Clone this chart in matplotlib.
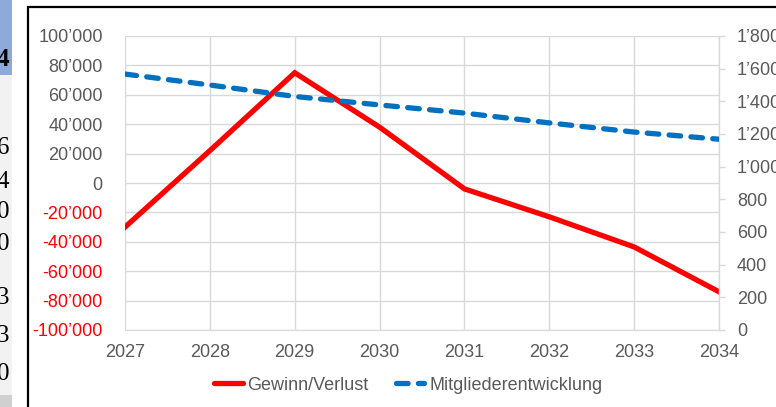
import matplotlib
matplotlib.use("Agg")
import matplotlib.pyplot as plt
from matplotlib.patches import Rectangle
from matplotlib.ticker import FuncFormatter, MultipleLocator
from matplotlib.lines import Line2D

years = [2027, 2028, 2029, 2030, 2031, 2032, 2033, 2034]
gewinn = [-30000, 22000, 75000, 38000, -4000, -23000, -43500, -74000]
mitglieder = [1567, 1500, 1430, 1378, 1328, 1268, 1212, 1168]
series_names = ["Gewinn/Verlust", "Mitgliederentwicklung"]
side_digits = ["4", "6", "4", "0", "0", "3", "3", "0"]
side_digit_y = [60, 148, 182, 212, 244, 298, 336, 374]

W, H = 776, 407
fig = plt.figure(figsize=(W / 100, H / 100), dpi=100)
fig.patch.set_facecolor("white")
plt.rcParams['font.family'] = ['Liberation Sans', 'DejaVu Sans']

# spreadsheet strip on the left (screenshot artifacts)
fig.add_artist(Rectangle((0, 0), 12 / W, 1, transform=fig.transFigure,
                         facecolor="#f2f2f2", edgecolor="none", zorder=0))
fig.add_artist(Rectangle((0, 1 - 75 / H), 12 / W, 75 / H, transform=fig.transFigure,
                         facecolor="#8eaadb", edgecolor="none", zorder=0))
fig.add_artist(Rectangle((0, 0), 12 / W, 12 / H, transform=fig.transFigure,
                         facecolor="#d0d0d0", edgecolor="none", zorder=0))
for i, (d, yy) in enumerate(zip(side_digits, side_digit_y)):
    fig.text(9 / W, 1 - yy / H, d, ha="right", va="center", fontsize=18,
             family="Liberation Serif", fontweight="bold" if i == 0 else "normal",
             color="black")

# black chart frame
fig.add_artist(Rectangle((28 / W, -0.1), 1.2, (H - 7) / H + 0.1, transform=fig.transFigure,
                         facecolor="none", edgecolor="black", linewidth=1.6, zorder=5))

ax = fig.add_axes([125 / W, 1 - 330 / H, (719 - 125) / W, (330 - 36) / H])
ax2 = ax.twinx()

grid_c = "#d9d9d9"
label_c = "#595959"
fs = 13

ax.set_xlim(2027, 2034)
ax.set_ylim(-100000, 100000)
ax2.set_ylim(0, 1800)
ax.set_xticks(years)
ax.yaxis.set_major_locator(MultipleLocator(20000))
ax2.yaxis.set_major_locator(MultipleLocator(200))

def fmt(v, pos=None):
    v = int(round(v))
    s = f"{abs(v):,}".replace(",", "\u2019")
    return ("-" if v < 0 else "") + s

ax.yaxis.set_major_formatter(FuncFormatter(fmt))
ax2.yaxis.set_major_formatter(FuncFormatter(fmt))

ax.grid(True, color=grid_c, linewidth=1.0)
ax.set_axisbelow(True)
for sp in ["top", "right", "left"]:
    ax.spines[sp].set_visible(False)
for sp in ["top", "left", "bottom"]:
    ax2.spines[sp].set_visible(False)
ax.spines["bottom"].set_color(grid_c)
ax2.spines["right"].set_color(grid_c)
ax2.spines["right"].set_linewidth(1.0)

ax.tick_params(axis="x", length=0, pad=10, labelsize=fs, labelcolor=label_c)
ax.tick_params(axis="y", length=0, pad=16, labelsize=fs, labelcolor=label_c)
ax2.tick_params(axis="y", length=4, width=1, color=grid_c, pad=9, labelsize=fs, labelcolor=label_c)
for lab, v in zip(ax.get_yticklabels(), ax.get_yticks()):
    if v < 0:
        lab.set_color("#ff0000")

ax.plot(years, gewinn, color="#ff0000", linewidth=3.8, solid_joinstyle="miter", zorder=3)
ax2.plot(years, mitglieder, color="#0070c0", linewidth=3.8, linestyle=(0, (2.2, 1.95)),
         dash_capstyle="round", zorder=3)

handles = [Line2D([], [], color="#ff0000", linewidth=3.8, solid_capstyle="round"),
           Line2D([], [], color="#0070c0", linewidth=3.8, linestyle=(0, (2.2, 1.95)),
                  dash_capstyle="round")]
fig.legend(handles, series_names, loc="center", bbox_to_anchor=(408 / W, 1 - 385 / H),
           ncol=2, frameon=False, fontsize=fs, labelcolor=label_c, handlelength=1.6,
           handletextpad=0.25, columnspacing=1.5)

fig.savefig("out.png", dpi=100)
